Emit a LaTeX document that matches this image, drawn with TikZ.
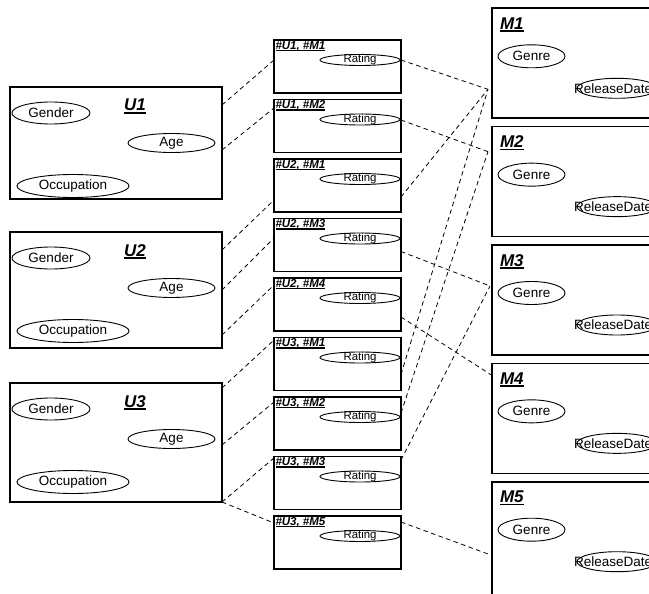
\documentclass[tikz,border=0pt]{standalone}
\usepackage{fontspec}
\setmainfont{Liberation Sans}
\usetikzlibrary{shapes.geometric}
\newcommand\myul[2]{\setbox0\hbox{#2}\rlap{\rule[-#1]{\wd0}{1.6pt}}\box0}
\newcommand\fA{\fontsize{13.5}{15}\selectfont}
\newcommand\fU{\fontsize{17}{18}\selectfont\bfseries\itshape}
\newcommand\fR{\fontsize{11.5}{12}\selectfont\bfseries\itshape}
\newcommand\fRt{\fontsize{11.4}{12}\selectfont}
\begin{document}
\begin{tikzpicture}[x=1pt,y=-1pt,
  every node/.style={inner sep=0pt, outer sep=0pt},
  ubox/.style={draw, line width=1.4pt, rectangle, anchor=north west, minimum width=212pt},
  rbox/.style={draw, line width=1.6pt, rectangle, anchor=north west, minimum width=127pt, minimum height=53pt},
  mbox/.style={draw, line width=1.6pt, rectangle, anchor=north west, minimum width=170pt},
  ell/.style={draw, ellipse, line width=0.9pt},
  conn/.style={line width=0.8pt, dash pattern=on 4.5pt off 3.5pt}]
\fill[white] (0,0) rectangle (649,594);
\useasboundingbox (0,0) rectangle (649,594);
\clip (0,0) rectangle (649,594);
% users
\foreach \n/\ty/\h in {1/87/112, 2/232/116, 3/383/119} {
  \node[ubox, minimum height=\h pt] (U\n) at (10,\ty) {};
  \node[font=\fU, anchor=base west] (Ul\n) at (124,\ty+24) {\myul{2.5pt}{U\n}};
  \node[ell, minimum width=78pt, minimum height=22pt] (Ug\n) at (51,\ty+26) {};
  \node[font=\fA] at (Ug\n) {Gender};
  \node[ell, minimum width=87pt, minimum height=19pt] (Ua\n) at (171.5,\ty+56) {};
  \node[font=\fA] at (Ua\n) {Age};
  \node[ell, minimum width=112pt, minimum height=23pt] (Uo\n) at (73,\ty+99) {};
  \node[font=\fA] at (Uo\n) {Occupation};
}
% ratings
\foreach \i/\lab in
  {1/{\#U1, \#M1}, 2/{\#U1, \#M2}, 3/{\#U2, \#M1}, 4/{\#U2, \#M3}, 5/{\#U2, \#M4},
   6/{\#U3, \#M1}, 7/{\#U3, \#M2}, 8/{\#U3, \#M3}, 9/{\#U3, \#M5}} {
  \pgfmathsetmacro\ty{40+59.5*(\i-1)}
  \node[rbox] (R\i) at (274,\ty) {};
  \node[font=\fR, anchor=north west] (Rl\i) at ([xshift=1.5pt,yshift=-1.2pt]R\i.north west) {\myul{2pt}{\lab}};
  \node[ell, minimum width=80pt, minimum height=11pt] (Re\i) at (360,\ty+20) {};
  \node[font=\fRt] at (Re\i) {Rating};
}
% movies
\foreach \m in {1,...,5} {
  \pgfmathsetmacro\ty{8.3+118.35*(\m-1)}
  \pgfmathsetmacro\mh{110+12*max(0,\m-4)}
  \node[mbox, minimum height=\mh pt] (M\m) at (492,\ty) {};
  \node[font=\fU, anchor=base west] (Ml\m) at (500,\ty+21) {\myul{2.5pt}{M\m}};
  \node[ell, minimum width=67pt, minimum height=23pt] (Mg\m) at (531.5,\ty+48) {};
  \node[font=\fA] at (Mg\m) {Genre};
  \node[ell, minimum width=80pt, minimum height=20pt] (Mr\m) at (617,\ty+80) {};
  \node[font=\fA, anchor=west] at (574,\ty+80) {ReleaseDate};
}
% user -> rating connectors
\draw[conn] ([yshift=-18pt]U1.north east) -- ([yshift=-20pt]R1.north west);
\draw[conn] ([yshift=-63pt]U1.north east) -- ([yshift=-8.5pt]R2.north west);
\draw[conn] ([yshift=-18pt]U2.north east) -- ([yshift=-41pt]R3.north west);
\draw[conn] ([yshift=-58pt]U2.north east) -- ([yshift=-19.5pt]R4.north west);
\draw[conn] ([yshift=-103pt]U2.north east) -- ([yshift=-7pt]R5.north west);
\draw[conn] ([yshift=-5pt]U3.north east) -- ([yshift=-2.5pt]R6.north west);
\draw[conn] ([yshift=-62pt]U3.north east) -- ([yshift=-5pt]R7.north west);
\draw[conn] (U3.south east) -- ([yshift=-1.5pt]R8.north west);
\draw[conn] (U3.south east) -- ([yshift=-7pt]R9.north west);
% rating -> movie connectors
\draw[conn] ([yshift=-20pt]R1.north east) -- ([xshift=-4pt,yshift=-81pt]M1.north west);
\draw[conn] ([yshift=-20.5pt]R2.north east) -- ([xshift=-4pt,yshift=-25pt]M2.north west);
\draw[conn] ([yshift=-38pt]R3.north east) -- ([xshift=-4pt,yshift=-81pt]M1.north west);
\draw[conn] ([yshift=-33pt]R4.north east) -- ([xshift=-2pt,yshift=-41pt]M3.north west);
\draw[conn] ([yshift=-39pt]R5.north east) -- ([yshift=-12pt]M4.north west);
\draw[conn] ([yshift=-37pt]R6.north east) -- ([xshift=-4pt,yshift=-81pt]M1.north west);
\draw[conn] ([yshift=-16pt]R7.north east) -- ([xshift=-4pt,yshift=-25pt]M2.north west);
\draw[conn] ([yshift=-3.5pt]R8.north east) -- ([xshift=-2pt,yshift=-41pt]M3.north west);
\draw[conn] ([yshift=-6pt]R9.north east) -- ([xshift=-2pt,yshift=-73pt]M5.north west);
\end{tikzpicture}
\end{document}
